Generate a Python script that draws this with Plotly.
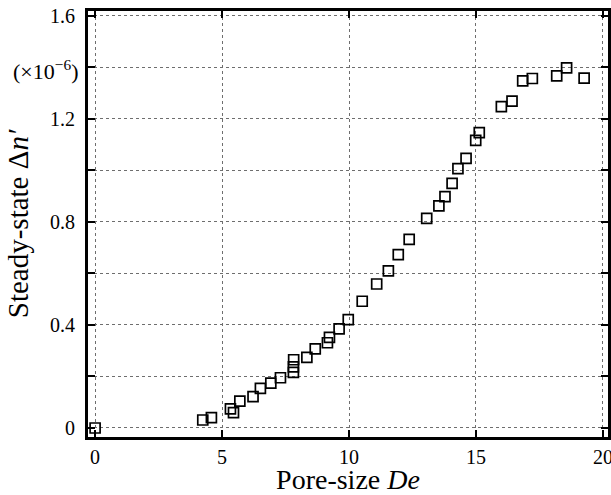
import plotly.graph_objects as go

# Pore size De and steady-state Δn' (in units of 1e-6)
pore_size = [0.0, 4.24, 4.58, 5.33, 5.45, 5.70, 6.22, 6.51, 6.92, 7.30,
             7.81, 7.81, 7.82, 8.34, 8.67, 9.15, 9.23, 9.61, 9.97, 10.52,
             11.09, 11.55, 11.94, 12.37, 13.06, 13.54, 13.78, 14.06, 14.29,
             14.61, 14.99, 15.13, 16.00, 16.42, 16.84, 17.22, 18.18, 18.57,
             19.26]
delta_n = [0.0, 0.031, 0.040, 0.074, 0.060, 0.104, 0.122, 0.154, 0.174,
           0.195, 0.216, 0.237, 0.265, 0.274, 0.307, 0.331, 0.352, 0.385,
           0.421, 0.492, 0.559, 0.610, 0.673, 0.732, 0.814, 0.862, 0.898,
           0.950, 1.007, 1.047, 1.117, 1.147, 1.248, 1.269, 1.348, 1.357,
           1.367, 1.398, 1.358]

x_ticks = [0, 5, 10, 15, 20]
y_ticks = [0, 0.2, 0.4, 0.6, 0.8, 1.0, 1.2, 1.4, 1.6]
y_labels = ["0", "", "0.4", "", "0.8", "", "1.2", "", "1.6"]

FONT = "Liberation Serif, Times New Roman, serif"

fig = go.Figure()
fig.add_trace(go.Scatter(
    x=pore_size, y=delta_n, mode="markers",
    marker=dict(symbol="square-open", size=10, color="black",
                line=dict(width=1.7, color="black")),
    showlegend=False,
))

axis_common = dict(
    showline=True, linecolor="black", linewidth=3, mirror="allticks",
    ticks="inside", ticklen=7, tickwidth=2, tickcolor="black",
    showgrid=True, gridcolor="#6e6e6e", gridwidth=1, griddash="dot",
    zeroline=False, automargin=False, ticklabeloverflow="allow",
    tickfont=dict(family=FONT, size=20, color="black"),
)

fig.update_xaxes(
    range=[-0.28, 20.2], tickmode="array", tickvals=x_ticks,
    ticktext=[str(v) for v in x_ticks],
    title=dict(text="Pore-size <i>De</i>", standoff=8,
               font=dict(family=FONT, size=28, color="black")),
    **axis_common,
)
fig.update_yaxes(
    range=[-0.035, 1.619], tickmode="array", tickvals=y_ticks,
    ticktext=y_labels, ticklabelstandoff=6,
    title=dict(text="Steady-state Δ<i>n′</i>", standoff=13,
               font=dict(family=FONT, size=29, color="black")),
    **axis_common,
)

fig.add_annotation(
    text="(×10<sup>−6</sup>)", xref="paper", yref="y",
    x=-0.016, y=1.39, xanchor="right", yanchor="middle", showarrow=False,
    font=dict(family=FONT, size=22, color="black"),
)

fig.update_layout(
    width=611, height=495,
    margin=dict(l=88, r=3, t=11, b=58),
    plot_bgcolor="white", paper_bgcolor="white",
)

fig.write_html("out.html")
